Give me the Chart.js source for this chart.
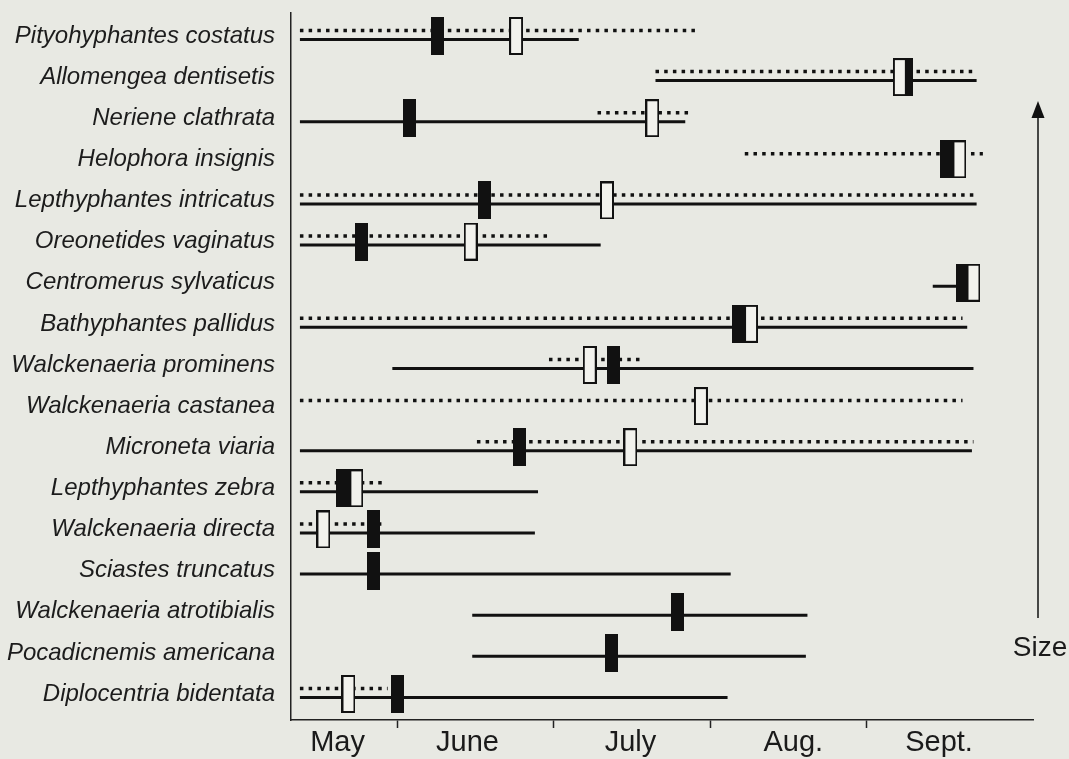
<!DOCTYPE html>
<html>
<head>
<meta charset="utf-8">
<script src="https://cdn.jsdelivr.net/npm/chart.js"></script>
<style>
  html, body { margin: 0; padding: 0; background: #e8e9e3; }
  canvas { display: block; }
</style>
</head>
<body>
<canvas id="phenology" width="1069" height="759"></canvas>
<script>
// Rows, top to bottom (index 0 = top row)
const species = [
    'Pityohyphantes costatus',
    'Allomengea dentisetis',
    'Neriene clathrata',
    'Helophora insignis',
    'Lepthyphantes intricatus',
    'Oreonetides vaginatus',
    'Centromerus sylvaticus',
    'Bathyphantes pallidus',
    'Walckenaeria prominens',
    'Walckenaeria castanea',
    'Microneta viaria',
    'Lepthyphantes zebra',
    'Walckenaeria directa',
    'Sciastes truncatus',
    'Walckenaeria atrotibialis',
    'Pocadicnemis americana',
    'Diplocentria bidentata'
];

// Time in months as decimals: 5.0 = 1 May, 6.0 = 1 June ... (null = not drawn)
const dottedStart = [5.38, 7.65, 7.28, 8.22, 5.38, 5.38, null, 5.38, 6.97, 5.38, 6.51, 5.38, 5.38, null, null, null, 5.38];
const dottedEnd   = [7.91, 9.70, 7.89, 9.74, 9.70, 6.98, null, 9.61, 7.58, 9.61, 9.68, 5.93, 5.90, null, null, null, 5.94];
const solidStart  = [5.38, 7.65, 5.38, null, 5.38, 5.38, 9.42, 5.38, 5.97, null, 5.38, 5.38, 5.38, 5.38, 6.48, 6.48, 5.38];
const solidEnd    = [7.16, 9.70, 7.84, null, 9.70, 7.30, 9.57, 9.64, 9.68, null, 9.67, 6.90, 6.88, 8.13, 8.62, 8.61, 8.11];
const blackMark   = [6.26, 9.25, 6.08, 9.51, 6.56, 5.77, 9.61, 8.18, 7.38, null, 6.78, 5.65, 5.85, 5.85, 7.79, 7.37, 6.00];
const whiteMark   = [6.76, 9.21, 7.63, 9.59, 7.34, 6.47, 9.68, 8.26, 7.23, 7.94, 7.49, 5.74, 5.53, null, null, null, 5.69];

// x axis: tick marks at month boundaries, names centred in between
const monthBounds = [6, 7, 8, 9];
const monthLabelAt = [5.62, 6.45, 7.49, 8.53, 9.46];
const monthNames = ['May', 'June', 'July', 'Aug.', 'Sept.'];

const FONT = '"Liberation Sans", Arial, Helvetica, sans-serif';
const INK = '#111';

// Each range becomes its own stretch of line, broken by a null point
function rangePoints(starts, ends, shift) {
    const pts = [];
    starts.forEach((s, i) => {
        if (s === null) return;
        pts.push({ x: s, y: i + shift }, { x: ends[i], y: i + shift }, { x: ends[i], y: null });
    });
    return pts;
}

function markPoints(marks) {
    return marks.map((x, i) => (x === null ? null : { x: x, y: i })).filter(Boolean);
}

function makeMark(w, h, fill) {
    const c = document.createElement('canvas');
    c.width = w;
    c.height = h;
    const g = c.getContext('2d');
    g.fillStyle = INK;
    g.fillRect(0, 0, w, h);
    if (fill) {
        g.fillStyle = fill;
        g.fillRect(2, 2, w - 4, h - 4);
    }
    return c;
}

const sizeArrow = {
    id: 'sizeArrow',
    afterDraw(chart) {
        const { ctx, chartArea } = chart;
        const x = chartArea.right + 5;
        ctx.save();
        ctx.strokeStyle = INK;
        ctx.fillStyle = INK;
        ctx.lineWidth = 1.5;
        ctx.beginPath();
        ctx.moveTo(x, chartArea.bottom - 102);
        ctx.lineTo(x, 112);
        ctx.stroke();
        ctx.beginPath();
        ctx.moveTo(x, 101);
        ctx.lineTo(x - 6.5, 118);
        ctx.lineTo(x + 6.5, 118);
        ctx.closePath();
        ctx.fill();
        ctx.font = '28px ' + FONT;
        ctx.fillStyle = '#1a1a1a';
        ctx.textAlign = 'center';
        ctx.textBaseline = 'middle';
        ctx.fillText('Size', x + 2, chartArea.bottom - 72);
        ctx.restore();
    }
};

new Chart(document.getElementById('phenology'), {
    type: 'scatter',
    data: {
        datasets: [
            {
                type: 'scatter',
                data: markPoints(whiteMark),
                pointStyle: makeMark(14, 38, '#f2f2ed'),
                order: 0
            },
            {
                type: 'scatter',
                data: markPoints(blackMark),
                pointStyle: makeMark(13, 38, null),
                order: 1
            },
            {
                type: 'line',
                data: rangePoints(solidStart, solidEnd, 0.085),
                borderColor: INK,
                borderWidth: 3,
                borderCapStyle: 'butt',
                pointRadius: 0,
                spanGaps: false,
                order: 2
            },
            {
                type: 'line',
                data: rangePoints(dottedStart, dottedEnd, -0.134),
                borderColor: INK,
                borderWidth: 3.5,
                borderDash: [3.5, 5.2],
                borderCapStyle: 'butt',
                pointRadius: 0,
                spanGaps: false,
                order: 3
            }
        ]
    },
    options: {
        responsive: false,
        animation: false,
        events: [],
        layout: { padding: { left: 0, top: 13, right: 36, bottom: 0 } },
        plugins: { legend: { display: false }, tooltip: { enabled: false } },
        scales: {
            x: {
                type: 'linear',
                min: 5.323,
                max: 10.06,
                afterBuildTicks: s => {
                    s.ticks = [...monthBounds, ...monthLabelAt].sort((a, b) => a - b).map(v => ({ value: v }));
                },
                afterFit: s => {
                    s.height = 39;
                    s.paddingLeft = 0;
                    s.paddingRight = 0;
                },
                grid: {
                    drawOnChartArea: false,
                    drawTicks: true,
                    tickLength: 8,
                    tickWidth: 1.5,
                    tickColor: c => (c.tick && monthBounds.includes(c.tick.value) ? '#222' : 'rgba(0,0,0,0)')
                },
                border: { display: true, color: '#222', width: 1.5 },
                ticks: {
                    autoSkip: false,
                    maxRotation: 0,
                    padding: 0,
                    color: '#1a1a1a',
                    font: { family: FONT, size: 29, lineHeight: 1 },
                    callback: v => {
                        const k = monthLabelAt.indexOf(v);
                        return k < 0 ? '' : monthNames[k];
                    }
                }
            },
            y: {
                type: 'linear',
                reverse: true,
                min: -0.559,
                max: 16.633,
                afterBuildTicks: s => {
                    s.ticks = species.map((_, i) => ({ value: i }));
                },
                afterFit: s => {
                    s.width = 291;
                    s.paddingTop = 0;
                    s.paddingBottom = 0;
                },
                grid: { display: false, drawTicks: false },
                border: { display: true, color: '#222', width: 1.5 },
                ticks: {
                    autoSkip: false,
                    padding: 16,
                    color: '#1c1c1c',
                    font: { family: FONT, size: 24, style: 'italic' },
                    callback: v => species[v]
                }
            }
        }
    },
    plugins: [sizeArrow]
});
</script>
</body>
</html>
